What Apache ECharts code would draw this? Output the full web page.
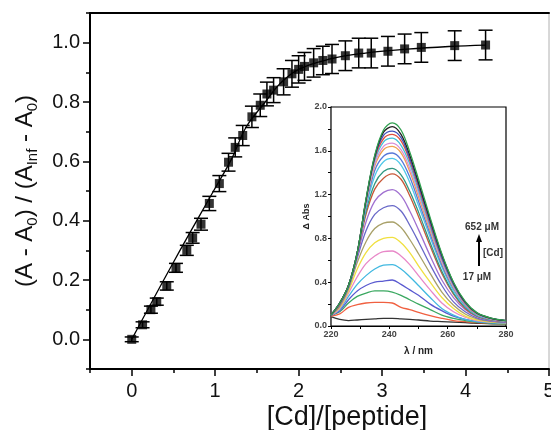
<!DOCTYPE html>
<html>
<head>
<meta charset="utf-8">
<script src="https://cdn.jsdelivr.net/npm/echarts@6/dist/echarts.min.js"></script>
<style>
html,body{margin:0;padding:0;background:#fff;}
#chart{width:551px;height:430px;}
</style>
</head>
<body>
<div id="chart"></div>
<script>
// ---- Main titration data ----
var ratioX = [0, 0.13, 0.23, 0.30, 0.42, 0.53, 0.66, 0.73, 0.83, 0.93, 1.05, 1.16, 1.24, 1.33, 1.44, 1.54, 1.62, 1.70, 1.82, 1.92, 2.00, 2.07, 2.18, 2.29, 2.40, 2.56, 2.72, 2.87, 3.07, 3.27, 3.47, 3.87, 4.24];
var fracY  = [0, 0.049, 0.10, 0.127, 0.18, 0.241, 0.30, 0.342, 0.388, 0.458, 0.525, 0.597, 0.647, 0.687, 0.75, 0.789, 0.827, 0.84, 0.868, 0.895, 0.91, 0.92, 0.932, 0.94, 0.945, 0.956, 0.965, 0.965, 0.971, 0.979, 0.984, 0.99, 0.992];
var fracErr = [0.008, 0.01, 0.012, 0.012, 0.014, 0.015, 0.017, 0.018, 0.02, 0.024, 0.027, 0.03, 0.032, 0.034, 0.036, 0.038, 0.04, 0.042, 0.044, 0.045, 0.046, 0.047, 0.048, 0.048, 0.049, 0.05, 0.05, 0.05, 0.05, 0.05, 0.05, 0.05, 0.05];
// fit curve
var fitX = [0, 0.5, 0.98, 1.2, 1.37, 1.6, 1.77, 2.0, 2.38, 2.8, 3.3, 3.8, 4.24];
var fitY = [0, 0.26, 0.50, 0.61, 0.715, 0.80, 0.86, 0.91, 0.945, 0.965, 0.978, 0.987, 0.992];

// ---- Inset spectra ----
var wavelengths = [220, 223, 226, 229, 232, 235, 238, 241, 244, 247, 250, 254, 258, 262, 266, 270, 275, 280];
var spec01 = [0.085, 0.06, 0.05, 0.055, 0.06, 0.065, 0.07, 0.07, 0.065, 0.06, 0.055, 0.045, 0.04, 0.035, 0.03, 0.025, 0.02, 0.02];
var spec02 = [0.09, 0.11, 0.17, 0.195, 0.21, 0.215, 0.215, 0.21, 0.17, 0.15, 0.125, 0.095, 0.07, 0.05, 0.04, 0.03, 0.025, 0.02];
var spec03 = [0.10, 0.13, 0.21, 0.27, 0.30, 0.32, 0.32, 0.31, 0.28, 0.24, 0.20, 0.15, 0.10, 0.07, 0.05, 0.035, 0.025, 0.02];
var spec04 = [0.10, 0.14, 0.24, 0.32, 0.37, 0.40, 0.41, 0.42, 0.38, 0.33, 0.28, 0.20, 0.14, 0.09, 0.06, 0.04, 0.03, 0.025];
var spec05 = [0.10, 0.15, 0.27, 0.38, 0.46, 0.52, 0.555, 0.56, 0.52, 0.45, 0.37, 0.26, 0.16, 0.10, 0.06, 0.04, 0.03, 0.025];
var spec06 = [0.10, 0.16, 0.30, 0.45, 0.57, 0.64, 0.68, 0.685, 0.64, 0.56, 0.46, 0.33, 0.21, 0.13, 0.08, 0.05, 0.035, 0.03];
var spec07 = [0.10, 0.17, 0.32, 0.52, 0.67, 0.76, 0.80, 0.81, 0.76, 0.67, 0.55, 0.40, 0.26, 0.16, 0.09, 0.055, 0.035, 0.03];
var spec08 = [0.10, 0.18, 0.34, 0.58, 0.77, 0.89, 0.94, 0.95, 0.90, 0.79, 0.66, 0.48, 0.31, 0.19, 0.11, 0.065, 0.04, 0.03];
var spec09 = [0.10, 0.19, 0.35, 0.62, 0.87, 1.02, 1.08, 1.10, 1.05, 0.92, 0.77, 0.56, 0.37, 0.22, 0.13, 0.075, 0.045, 0.035];
var spec10 = [0.10, 0.20, 0.36, 0.64, 0.95, 1.14, 1.22, 1.245, 1.19, 1.05, 0.88, 0.64, 0.42, 0.26, 0.15, 0.085, 0.05, 0.04];
var spec11 = [0.10, 0.20, 0.37, 0.66, 1.02, 1.25, 1.35, 1.39, 1.34, 1.19, 1.00, 0.73, 0.48, 0.29, 0.16, 0.09, 0.055, 0.04];
var spec12 = [0.10, 0.21, 0.37, 0.67, 1.05, 1.30, 1.41, 1.44, 1.38, 1.23, 1.04, 0.76, 0.50, 0.30, 0.17, 0.095, 0.058, 0.042];
var spec13 = [0.10, 0.21, 0.37, 0.67, 1.08, 1.37, 1.50, 1.53, 1.47, 1.31, 1.10, 0.81, 0.54, 0.32, 0.18, 0.10, 0.06, 0.044];
var spec14 = [0.10, 0.21, 0.37, 0.67, 1.10, 1.42, 1.55, 1.58, 1.52, 1.36, 1.14, 0.84, 0.56, 0.34, 0.19, 0.105, 0.062, 0.045];
var spec15 = [0.10, 0.21, 0.37, 0.67, 1.12, 1.46, 1.61, 1.64, 1.58, 1.41, 1.18, 0.87, 0.58, 0.35, 0.195, 0.107, 0.064, 0.046];
var spec16 = [0.10, 0.21, 0.37, 0.67, 1.13, 1.48, 1.64, 1.67, 1.61, 1.44, 1.21, 0.89, 0.59, 0.36, 0.20, 0.11, 0.065, 0.047];
var spec17 = [0.10, 0.21, 0.37, 0.67, 1.14, 1.51, 1.68, 1.715, 1.65, 1.48, 1.24, 0.91, 0.61, 0.37, 0.205, 0.112, 0.066, 0.048];
var spec18 = [0.10, 0.21, 0.37, 0.67, 1.15, 1.53, 1.71, 1.75, 1.69, 1.51, 1.27, 0.93, 0.62, 0.38, 0.21, 0.115, 0.068, 0.049];
var spec19 = [0.10, 0.21, 0.37, 0.67, 1.15, 1.54, 1.74, 1.78, 1.72, 1.53, 1.29, 0.95, 0.63, 0.385, 0.215, 0.117, 0.069, 0.05];
var spec20 = [0.10, 0.21, 0.37, 0.67, 1.15, 1.55, 1.77, 1.82, 1.75, 1.56, 1.31, 0.97, 0.65, 0.395, 0.22, 0.12, 0.07, 0.05];
var spec21 = [0.10, 0.21, 0.37, 0.67, 1.16, 1.56, 1.79, 1.855, 1.79, 1.59, 1.34, 0.99, 0.66, 0.40, 0.225, 0.122, 0.071, 0.05];
var spectra = [spec01, spec02, spec03, spec04, spec05, spec06, spec07, spec08, spec09, spec10, spec11, spec12, spec13, spec14, spec15, spec16, spec17, spec18, spec19, spec20, spec21];
var specColors = ['#333333', '#f06040', '#3aa860', '#5a5ad0', '#40b8e0', '#e888c8', '#f0e040', '#a8a068', '#6868c8', '#a070d0', '#c85838', '#309880', '#50c8e8', '#5878d8', '#f0a050', '#d890d8', '#40c0d8', '#e05040', '#4050c0', '#202020', '#30a050'];

var FONT = 'Liberation Sans, Arial, sans-serif';

var chart = echarts.init(document.getElementById('chart'));

function zip(a, b) { return a.map(function (v, i) { return [v, b[i]]; }); }

var series = [];
// error bars
series.push({
  type: 'custom', xAxisIndex: 0, yAxisIndex: 0, z: 3,
  data: ratioX.map(function (x, i) { return [x, fracY[i], fracErr[i]]; }),
  renderItem: function (params, api) {
    var x = api.value(0), y = api.value(1), e = api.value(2);
    var t = api.coord([x, y + e]), b = api.coord([x, y - e]);
    var hw = 7;
    var st = { stroke: '#000', lineWidth: 1.5 };
    return { type: 'group', children: [
      { type: 'line', shape: { x1: t[0], y1: t[1], x2: b[0], y2: b[1] }, style: st },
      { type: 'line', shape: { x1: t[0] - hw, y1: t[1], x2: t[0] + hw, y2: t[1] }, style: st },
      { type: 'line', shape: { x1: b[0] - hw, y1: b[1], x2: b[0] + hw, y2: b[1] }, style: st }
    ] };
  }
});
// fit line
series.push({
  type: 'line', xAxisIndex: 0, yAxisIndex: 0, z: 2, smooth: 0.4, symbol: 'none',
  data: zip(fitX, fitY), lineStyle: { color: '#000', width: 1.3 }
});
// points
series.push({
  type: 'scatter', xAxisIndex: 0, yAxisIndex: 0, z: 4, symbol: 'rect', symbolSize: 9,
  data: zip(ratioX, fracY), itemStyle: { color: '#000' }
});
// inset spectra
spectra.forEach(function (s, i) {
  series.push({
    type: 'line', xAxisIndex: 3, yAxisIndex: 3, z: 5 + i, smooth: 0.35, symbol: 'none',
    data: zip(wavelengths, s), lineStyle: { color: specColors[i], width: 1.3 }
  });
});

var tickStyle = { color: '#000', width: 1.5 };

var option = {
  animation: false,
  backgroundColor: '#fff',
  grid: [
    { left: 90, right: 2, top: 13, bottom: 61, outerBoundsMode: 'none', containLabel: false, show: true, borderColor: '#b0b0b0', borderWidth: 1 },
    { left: 131.73, right: 2, top: 13, bottom: 61, outerBoundsMode: 'none', containLabel: false },
    { left: 90, right: 2, top: 42.67, bottom: 90.67, outerBoundsMode: 'none', containLabel: false },
    { left: 331, right: 45, top: 107, bottom: 104, outerBoundsMode: 'none', containLabel: false, show: true, borderColor: '#000', borderWidth: 1.2, backgroundColor: '#fff', z: 4 }
  ],
  xAxis: [
    { gridIndex: 0, type: 'value', min: -0.5, max: 5, interval: 0.5,
      axisLine: { onZero: false, lineStyle: { color: '#000', width: 2 } },
      axisTick: { length: 4, lineStyle: tickStyle }, axisLabel: { show: false }, splitLine: { show: false },
      name: '[Cd]/[peptide]', nameLocation: 'middle', nameGap: 35,
      nameTextStyle: { fontSize: 27, fontFamily: FONT, color: '#111', padding: [0, 0, 0, 55] } },
    { gridIndex: 1, type: 'value', min: 0, max: 5, interval: 1,
      axisLine: { show: false, onZero: false }, axisTick: { length: 7, lineStyle: tickStyle },
      axisLabel: { fontSize: 20, fontFamily: FONT, color: '#111', margin: 12 }, splitLine: { show: false } },
    { gridIndex: 2, type: 'value', min: 0, max: 5, show: false },
    { gridIndex: 3, type: 'value', min: 220, max: 280, interval: 10,
      axisLine: { onZero: false, lineStyle: { color: '#000', width: 1.2 } },
      axisTick: { length: 3, lineStyle: { color: '#000', width: 1 } },
      axisLabel: { fontSize: 9, fontWeight: 'bold', fontFamily: FONT, color: '#444', margin: 4,
        formatter: function (v) { return (Math.round(v) % 20 === 0) ? String(v) : ''; } },
      splitLine: { show: false },
      name: 'λ / nm', nameLocation: 'middle', nameGap: 20,
      nameTextStyle: { fontSize: 10, fontWeight: 'bold', fontFamily: FONT, color: '#222' } },
    { gridIndex: 0, type: 'value', min: -0.5, max: 5, position: 'top',
      axisLine: { onZero: false, lineStyle: { color: '#000', width: 2 } }, axisTick: { show: false }, axisLabel: { show: false }, splitLine: { show: false } }
  ],
  yAxis: [
    { gridIndex: 0, type: 'value', min: -0.1, max: 1.1, interval: 0.1,
      axisLine: { onZero: false, lineStyle: { color: '#000', width: 2 } },
      axisTick: { length: 4, lineStyle: tickStyle }, axisLabel: { show: false }, splitLine: { show: false },
      name: '(A - A{s|0}) / (A{s|Inf} - A{s|0})', nameLocation: 'middle', nameGap: 50, nameRotate: 90,
      nameTextStyle: { fontSize: 24, fontFamily: FONT, color: '#111', lineHeight: 30,
        rich: { s: { fontSize: 15, fontFamily: FONT, color: '#111', verticalAlign: 'bottom', lineHeight: 14, padding: [8, 0, 0, 0] } } } },
    { gridIndex: 1, type: 'value', min: 0, max: 1, show: false },
    { gridIndex: 2, type: 'value', min: 0, max: 1, interval: 0.2,
      axisLine: { show: false, onZero: false }, axisTick: { length: 7, lineStyle: tickStyle },
      axisLabel: { fontSize: 20, fontFamily: FONT, color: '#111', margin: 10,
        formatter: function (v) { return v.toFixed(1); } }, splitLine: { show: false } },
    { gridIndex: 3, type: 'value', min: 0, max: 2, interval: 0.2,
      axisLine: { onZero: false, lineStyle: { color: '#000', width: 1.2 } },
      axisTick: { length: 3, lineStyle: { color: '#000', width: 1 } },
      axisLabel: { fontSize: 9, fontWeight: 'bold', fontFamily: FONT, color: '#444', margin: 4,
        formatter: function (v) { return (Math.round(v * 10) % 4 === 0) ? v.toFixed(1) : ''; } },
      splitLine: { show: false },
      name: 'Δ Abs', nameLocation: 'middle', nameGap: 18, nameRotate: 90,
      nameTextStyle: { fontSize: 9, fontWeight: 'bold', fontFamily: FONT, color: '#222' } }
  ],
  graphic: [
    { type: 'text', x: 482, y: 227, z: 100, style: { text: '652 μM', font: 'bold 10px ' + FONT, fill: '#333', align: 'center', verticalAlign: 'middle' } },
    { type: 'line', z: 100, shape: { x1: 479, y1: 266, x2: 479, y2: 240 }, style: { stroke: '#000', lineWidth: 2 } },
    { type: 'polygon', z: 100, shape: { points: [[479, 234], [476, 242], [482, 242]] }, style: { fill: '#000' } },
    { type: 'text', x: 483, y: 253, z: 100, style: { text: '[Cd]', font: 'bold 10px ' + FONT, fill: '#333', align: 'left', verticalAlign: 'middle' } },
    { type: 'text', x: 477, y: 277, z: 100, style: { text: '17 μM', font: 'bold 10px ' + FONT, fill: '#333', align: 'center', verticalAlign: 'middle' } }
  ],
  series: series
};
chart.setOption(option);
</script>
</body>
</html>
